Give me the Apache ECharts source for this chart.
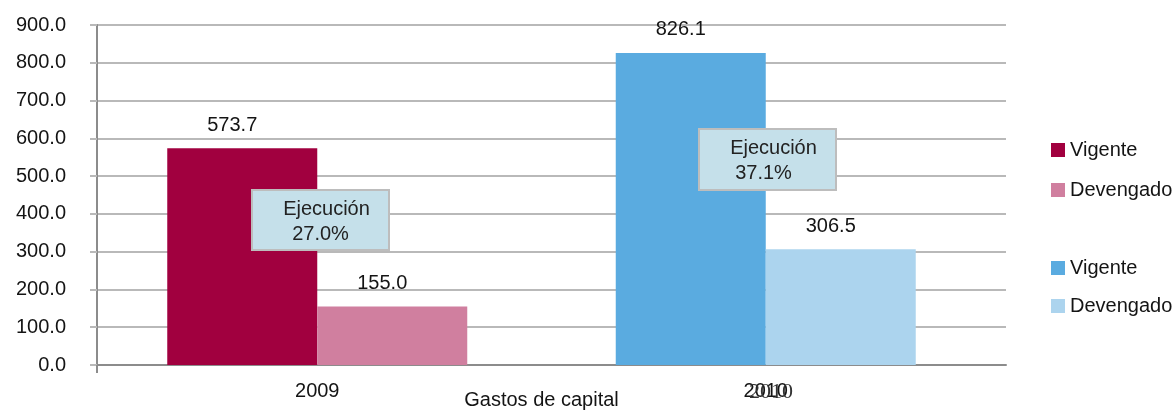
<!DOCTYPE html>
<html>
<head>
<meta charset="utf-8">
<script src="https://cdn.jsdelivr.net/npm/echarts@6/dist/echarts.min.js"></script>
<style>
  html, body { margin: 0; padding: 0; background: #fff; }
  #main { width: 1176px; height: 415px; }
</style>
</head>
<body>
<div id="main"></div>
<script>
// data
const categories = ['2009', '2010']
const vigente2009 = [573.7, '-']
const devengado2009 = [155.0, '-']
const vigente2010 = ['-', 826.1]
const devengado2010 = ['-', 306.5]
const ejecucion = ['27.0%', '37.1%']
const yTicks = { min: 0, max: 900, interval: 100 }

const FONT = 'Liberation Sans'
const TXT = '#141414'
const GRIDLINE = '#b9b9b9'
const AXIS = '#8c8c8c'

const chart = echarts.init(document.getElementById('main'), null, { renderer: 'canvas' })

const label = {
  show: true,
  position: 'top',
  distance: 13,
  offset: [-10, 0],
  fontFamily: FONT,
  fontSize: 20,
  color: TXT,
  formatter: p => Number(p.value).toFixed(1)
}

function bar(name, data, stack, color) {
  return {
    name: name,
    type: 'bar',
    xAxisIndex: 1,
    yAxisIndex: 1,
    stack: stack,
    barWidth: 150,
    barGap: '0%',
    itemStyle: { color: color },
    label: label,
    data: data
  }
}

// callout boxes
function callout(x, y, w, h, pct, dx) {
  return {
    type: 'group',
    z: 100,
    children: [
      { type: 'rect', z: 100, shape: { x: x, y: y, width: w, height: h },
        style: { fill: '#c5e0ea', stroke: '#bdbdbd', lineWidth: 2 } },
      { type: 'text', z: 101, x: x + w / 2 + 6, y: y + 19,
        style: { text: 'Ejecución', font: '20px ' + FONT, fill: '#222', align: 'center', verticalAlign: 'middle' } },
      { type: 'text', z: 101, x: x + w / 2 + dx, y: y + 44,
        style: { text: pct, font: '20px ' + FONT, fill: '#222', align: 'center', verticalAlign: 'middle' } }
    ]
  }
}

const option = {
  animation: false,
  backgroundColor: '#fff',
  textStyle: { fontFamily: FONT },
  grid: [
    { left: 97, right: 170, top: 25, bottom: 50, outerBoundsMode: 'none' },
    { left: 93, right: 186, top: 25, bottom: 50, outerBoundsMode: 'none' }
  ],
  legend: [
    {
      orient: 'vertical', left: 1046, top: 135,
      itemWidth: 14, itemHeight: 14, itemGap: 20,
      icon: 'rect',
      textStyle: { fontFamily: FONT, fontSize: 20, color: TXT, lineHeight: 20 },
      formatter: n => n.split(' ')[0],
      data: ['Vigente 2009', 'Devengado 2009']
    },
    {
      orient: 'vertical', left: 1046, top: 253,
      itemWidth: 14, itemHeight: 14, itemGap: 18,
      icon: 'rect',
      textStyle: { fontFamily: FONT, fontSize: 20, color: TXT, lineHeight: 20 },
      formatter: n => n.split(' ')[0],
      data: ['Vigente 2010', 'Devengado 2010']
    }
  ],
  xAxis: [
    {
      gridIndex: 0,
      type: 'value',
      min: 0,
      max: 1,
      axisLine: { show: true, lineStyle: { color: AXIS, width: 2 } },
      axisTick: { show: true, customValues: [0], length: 8, lineStyle: { color: AXIS, width: 2 } },
      axisLabel: { show: false },
      splitLine: { show: false }
    },
    {
      gridIndex: 1,
      type: 'category',
      data: categories,
      axisLine: { show: false },
      axisTick: { show: false },
      axisLabel: { margin: 16, fontFamily: FONT, fontSize: 20, color: TXT },
      name: 'Gastos de capital',
      nameLocation: 'middle',
      nameGap: 25,
      nameMoveOverlap: false,
      nameTextStyle: { fontFamily: FONT, fontSize: 20, color: TXT }
    }
  ],
  yAxis: [
    {
      gridIndex: 0,
      type: 'value',
      min: yTicks.min,
      max: yTicks.max,
      interval: yTicks.interval,
      axisLine: { show: true, lineStyle: { color: AXIS, width: 2 } },
      axisTick: { show: true, length: 7, lineStyle: { color: GRIDLINE, width: 2 } },
      axisLabel: { margin: 31, fontFamily: FONT, fontSize: 20, color: TXT, formatter: v => v.toFixed(1) },
      splitLine: { lineStyle: { color: GRIDLINE, width: 2 } }
    },
    {
      gridIndex: 1,
      type: 'value',
      min: yTicks.min,
      max: yTicks.max,
      show: false,
      splitLine: { show: false }
    }
  ],
  series: [
    bar('Vigente 2009', vigente2009, 'v', '#a1003f'),
    bar('Devengado 2009', devengado2009, 'd', '#d07f9f'),
    bar('Vigente 2010', vigente2010, 'v', '#5aabe0'),
    bar('Devengado 2010', devengado2010, 'd', '#acd4ee')
  ],
  graphic: [
    callout(252, 190, 137, 60, ejecucion[0], 0),
    callout(699, 129, 137, 61, ejecucion[1], -4),
    // stray serif year drawn over the second label in the original
    { type: 'text', z: 101, x: 771, y: 392,
      style: { text: categories[1], font: '22px "Liberation Serif"', fill: '#333', align: 'center', verticalAlign: 'middle' } }
  ]
}

chart.setOption(option)
</script>
</body>
</html>
